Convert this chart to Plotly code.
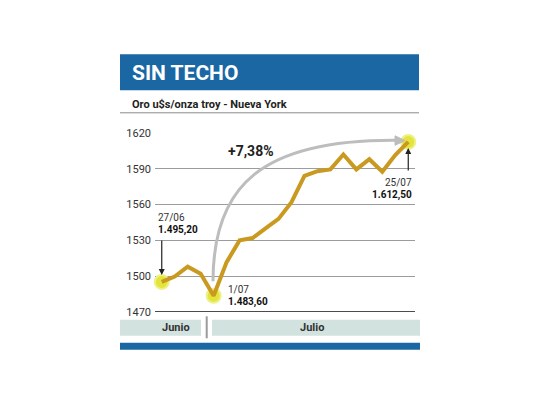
import plotly.graph_objects as go

# Gold price, u$s per troy ounce, New York (27/06 - 25/07)
dates = ["27/06", "28/06", "29/06", "30/06", "01/07", "05/07", "06/07", "07/07",
         "08/07", "11/07", "12/07", "13/07", "14/07", "15/07", "18/07", "19/07",
         "20/07", "21/07", "22/07", "25/07"]
prices = [1495.2, 1499.7, 1508.0, 1502.0, 1483.6, 1511.8, 1530.0, 1532.0,
          1540.0, 1548.0, 1562.0, 1584.0, 1588.0, 1589.5, 1602.0, 1589.5,
          1598.0, 1587.5, 1601.5, 1612.5]
highlight = [0, 4, 19]
y_ticks = [1470, 1500, 1530, 1560, 1590, 1620]
months = ["Junio", "Julio"]

W, H = 540, 405
OFF = 8                                # page margin seen in the screenshot
L, R, T, B = 155, 415, 132.7, 311.7    # plot area, reference pixels

FONT = "Roboto, Liberation Sans, sans-serif"
BLUE = "#1a67a3"
BAND = "#d2e2df"
GOLD = "#c99a1f"


def px(x):
    return (x - L) / (R - L)


def py(y):
    return (B - y) / (B - T)


fig = go.Figure()

# highlighted points (drawn under the line)
fig.add_trace(go.Scatter(
    x=[dates[i] for i in highlight], y=[prices[i] for i in highlight],
    mode="markers",
    marker=dict(size=14, color="#e3e43c", line=dict(width=2, color="#eef08a")),
    cliponaxis=False, hoverinfo="skip", showlegend=False
))

fig.add_trace(go.Scatter(
    x=dates, y=prices, mode="lines",
    line=dict(color=GOLD, width=4),
    cliponaxis=False, showlegend=False
))

shapes = []
# title banner
shapes.append(dict(type="rect", xref="paper", yref="paper",
                   x0=px(120), x1=px(419), y0=py(90), y1=py(54),
                   fillcolor=BLUE, line_width=0, layer="below"))
# subtitle underline
shapes.append(dict(type="line", xref="paper", yref="paper",
                   x0=px(120), x1=px(419), y0=py(112.5), y1=py(112.5),
                   line=dict(color="#8a8a8a", width=1)))
# baseline
shapes.append(dict(type="line", xref="paper", yref="y",
                   x0=0, x1=1, y0=y_ticks[0], y1=y_ticks[0],
                   line=dict(color="#111111", width=1.6)))
# month bands
shapes.append(dict(type="rect", xref="paper", yref="paper",
                   x0=px(120), x1=px(201), y0=py(335.5), y1=py(319.5),
                   fillcolor=BAND, line_width=0))
shapes.append(dict(type="rect", xref="paper", yref="paper",
                   x0=px(212), x1=px(420), y0=py(335.5), y1=py(319.5),
                   fillcolor=BAND, line_width=0))
shapes.append(dict(type="line", xref="paper", yref="paper",
                   x0=px(206.7), x1=px(206.7), y0=py(338), y1=py(316),
                   line=dict(color="#9a9a9a", width=2)))
# bottom bar
shapes.append(dict(type="rect", xref="paper", yref="paper",
                   x0=px(120), x1=px(420), y0=py(349.5), y1=py(342.5),
                   fillcolor=BLUE, line_width=0))
# curved gray arrow from the low to the last value
p0, c1, c2, p1 = (213, 281), (213, 185), (262, 139), (397, 140)
path = "M {},{} C {},{} {},{} {},{}".format(
    px(p0[0]), py(p0[1]), px(c1[0]), py(c1[1]),
    px(c2[0]), py(c2[1]), px(p1[0]), py(p1[1]))
shapes.append(dict(type="path", xref="paper", yref="paper", path=path,
                   line=dict(color="#bdbdbd", width=3)))
head = "M {},{} L {},{} L {},{} Z".format(
    px(395), py(135.5), px(405), py(140.3), px(395), py(145))
shapes.append(dict(type="path", xref="paper", yref="paper", path=head,
                   fillcolor="#bdbdbd", line=dict(color="#bdbdbd", width=1)))

annotations = [
    dict(xref="paper", yref="paper", x=px(130), y=py(72.5), text="<b>SIN TECHO</b>",
         showarrow=False, xanchor="left", yanchor="middle",
         font=dict(family=FONT, size=21, color="white")),
    dict(xref="paper", yref="paper", x=px(130), y=py(104), text="<b>Oro u$s/onza troy - Nueva York</b>",
         showarrow=False, xanchor="left", yanchor="middle",
         font=dict(family=FONT, size=11, color="#222222")),
    dict(xref="paper", yref="paper", x=px(192), y=py(327.5), text="<b>" + months[0] + "</b>",
         showarrow=False, xanchor="right", yanchor="middle",
         font=dict(family=FONT, size=11, color="#333333")),
    dict(xref="paper", yref="paper", x=px(312), y=py(327.5), text="<b>" + months[1] + "</b>",
         showarrow=False, xanchor="center", yanchor="middle",
         font=dict(family=FONT, size=11, color="#333333")),
    dict(xref="paper", yref="paper", x=px(251), y=py(151), text="<b>+7,38%</b>",
         showarrow=False, xanchor="center", yanchor="middle",
         font=dict(family=FONT, size=14, color="#222222")),
]

label_font = dict(family=FONT, size=10, color="#333333")
bold_font = dict(family=FONT, size=10, color="#111111")


def fmt(v):
    s = "{:,.2f}".format(v)
    return s.replace(",", "#").replace(".", ",").replace("#", ".")


# 27/06 label + arrow
annotations += [
    dict(xref="paper", yref="paper", x=px(156), y=py(217), text=dates[0],
         showarrow=False, xanchor="left", yanchor="middle", font=label_font),
    dict(xref="paper", yref="paper", x=px(156), y=py(229.5), text="<b>" + fmt(prices[0]) + "</b>",
         showarrow=False, xanchor="left", yanchor="middle", font=bold_font),
    dict(x=dates[0], y=prices[0], text="", showarrow=True, ax=0, ay=-43,
         arrowhead=2, arrowsize=1, arrowwidth=1.2, arrowcolor="#222222", standoff=7),
    # 1/07 label
    dict(xref="paper", yref="paper", x=px(225.5), y=py(289.5), text="1/07",
         showarrow=False, xanchor="left", yanchor="middle", font=label_font),
    dict(xref="paper", yref="paper", x=px(225.5), y=py(302), text="<b>" + fmt(prices[4]) + "</b>",
         showarrow=False, xanchor="left", yanchor="middle", font=bold_font),
    # 25/07 label + arrow
    dict(xref="paper", yref="paper", x=px(413.5), y=py(182.5), text=dates[-1],
         showarrow=False, xanchor="right", yanchor="middle", font=label_font),
    dict(xref="paper", yref="paper", x=px(413.5), y=py(195), text="<b>" + fmt(prices[-1]) + "</b>",
         showarrow=False, xanchor="right", yanchor="middle", font=bold_font),
    dict(x=dates[-1], y=prices[-1], text="", showarrow=True, ax=0, ay=30,
         arrowhead=2, arrowsize=1, arrowwidth=1.2, arrowcolor="#222222", standoff=6),
]

fig.update_layout(
    width=W, height=H,
    margin=dict(l=L - OFF, r=W - R + OFF, t=T - OFF, b=H - B + OFF, autoexpand=False),
    paper_bgcolor="white", plot_bgcolor="white",
    shapes=shapes, annotations=annotations,
    xaxis=dict(type="category", categoryorder="array", categoryarray=dates,
               range=[-0.52, len(dates) - 0.48],
               showgrid=False, showticklabels=False, zeroline=False, showline=False),
    yaxis=dict(range=[y_ticks[0], y_ticks[-1]], tickvals=y_ticks,
               showgrid=True, gridcolor="#9c9c9c", gridwidth=1, zeroline=False,
               showline=False, ticks="", ticklabelstandoff=3,
               tickfont=dict(family=FONT, size=11, color="#333333")),
    showlegend=False,
)

fig.write_html("out.html")
